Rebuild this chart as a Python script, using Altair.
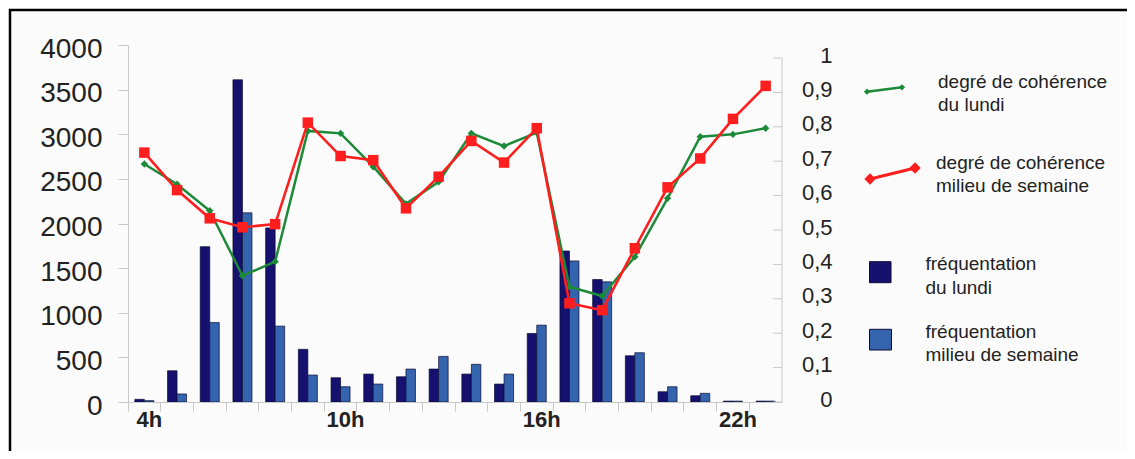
import altair as alt
import pandas as pd

# ---------------- data ----------------
hours = ["4h", "5h", "6h", "7h", "8h", "9h", "10h", "11h", "12h", "13h",
         "14h", "15h", "16h", "17h", "18h", "19h", "20h", "21h", "22h", "23h"]
shown_labels = ["4h", "10h", "16h", "22h"]

freq_lundi = [30, 350, 1740, 3610, 1950, 590, 272, 313, 283, 369,
              313, 201, 768, 1692, 1372, 518, 115, 70, 10, 10]
freq_semaine = [15, 90, 890, 2120, 850, 302, 171, 201, 369, 511,
                422, 313, 861, 1581, 1346, 552, 171, 97, 10, 10]

coh_lundi = [0.692, 0.633, 0.556, 0.367, 0.408, 0.788, 0.781, 0.684, 0.576, 0.640,
             0.781, 0.744, 0.783, 0.335, 0.308, 0.422, 0.592, 0.771, 0.778, 0.796]
coh_semaine = [0.725, 0.616, 0.534, 0.508, 0.517, 0.812, 0.715, 0.703, 0.563, 0.655,
               0.759, 0.696, 0.796, 0.287, 0.267, 0.447, 0.624, 0.708, 0.823, 0.919]

left_ticks = [0, 500, 1000, 1500, 2000, 2500, 3000, 3500, 4000]
right_ticks = [0, 0.1, 0.2, 0.3, 0.4, 0.5, 0.6, 0.7, 0.8, 0.9, 1]

series_bars = ["lundi", "semaine"]
legend_texts = [
    "degré de cohérence\ndu lundi",
    "degré de cohérence\nmilieu de semaine",
    "fréquentation\ndu lundi",
    "fréquentation\nmilieu de semaine",
]

# ---------------- styles ----------------
W, H = 654, 357
DARK = "#16106E"
LIGHT = "#3564AE"
GREEN = "#1C8A38"
RED = "#FF1E1E"
AXIS_GRAY = "#C8C8C8"
TEXT = "#222222"
FONT = "Liberation Sans"

df_bars = pd.DataFrame({
    "heure": hours * 2,
    "serie": ["lundi"] * len(hours) + ["semaine"] * len(hours),
    "valeur": freq_lundi + freq_semaine,
})
df_lines = pd.DataFrame({"heure": hours, "lundi": coh_lundi, "semaine": coh_semaine})
df_raxis = pd.DataFrame({"lo": [right_ticks[0]], "hi": [right_ticks[-1]]})
df_rticks = pd.DataFrame({"t": right_ticks})
dummy = pd.DataFrame({"d": [0]})

label_list = "[" + ",".join("'" + s + "'" for s in shown_labels) + "]"

x_axis = alt.Axis(
    title=None, bandPosition=0, labelAngle=0, labelOffset=5,
    labelExpr=f"indexof({label_list}, datum.label) >= 0 ? datum.label : ''",
    labelFontSize=22, labelFontWeight="bold", labelColor=TEXT, labelPadding=-2,
    labelFont=FONT,
    tickSize=9, tickColor=AXIS_GRAY, domainColor=AXIS_GRAY, grid=False, zindex=1,
)
x_enc = alt.X("heure:N", sort=hours,
              scale=alt.Scale(paddingInner=0, paddingOuter=0), axis=x_axis)

left_axis = alt.Axis(
    title=None, orient="left", values=left_ticks, format="d",
    labelFontSize=28, labelColor=TEXT, labelPadding=16, labelOffset=4,
    labelFont=FONT, labelOverlap=False,
    tickSize=10, tickColor=AXIS_GRAY, domainColor=AXIS_GRAY, grid=False, zindex=1,
)
right_scale = alt.Scale(domain=[0, 1.0378], nice=False, zero=True)
right_axis = alt.Axis(
    title=None, orient="right", values=right_ticks,
    labelExpr="datum.value == 0 ? '0' : datum.value == 1 ? '1' : replace(format(datum.value, '.1f'), '.', ',')",
    labelFontSize=22, labelColor=TEXT, labelAlign="right", labelPadding=50,
    labelOffset=-3, labelFont=FONT, labelOverlap=False,
    ticks=False, tickSize=0, domain=False, grid=False, zindex=1,
)

# frame
frame = alt.Chart(dummy).mark_rect(
    fill="#FBFBFB", stroke="#000000", strokeWidth=2.5
).encode(
    x=alt.value(-118), x2=alt.value(W + 400),
    y=alt.value(-35), y2=alt.value(H + 100),
)

bars = alt.Chart(df_bars).mark_bar(stroke="#0B0B35", strokeWidth=0.7).encode(
    x=x_enc,
    xOffset=alt.XOffset("serie:N", sort=series_bars,
                        scale=alt.Scale(paddingOuter=0.72, paddingInner=0)),
    y=alt.Y("valeur:Q", scale=alt.Scale(domain=[0, 4000], nice=False), axis=left_axis),
    color=alt.Color("serie:N", scale=alt.Scale(domain=series_bars, range=[DARK, LIGHT]),
                    legend=None),
)

green_line = alt.Chart(df_lines).mark_line(
    color=GREEN, strokeWidth=2.5,
    point=alt.OverlayMarkDef(shape="diamond", filled=True, size=55, color=GREEN),
).encode(
    x=alt.X("heure:N", sort=hours),
    y=alt.Y("lundi:Q", scale=right_scale, axis=right_axis),
)
red_line = alt.Chart(df_lines).mark_line(
    color=RED, strokeWidth=2.6,
    point=alt.OverlayMarkDef(shape="square", filled=True, size=110, color=RED),
).encode(
    x=alt.X("heure:N", sort=hours),
    y=alt.Y("semaine:Q", scale=right_scale, axis=right_axis),
)
raxis_line = alt.Chart(df_raxis).mark_rule(color=AXIS_GRAY, strokeWidth=1).encode(
    x=alt.value(W),
    y=alt.Y("lo:Q", scale=right_scale, axis=right_axis),
    y2="hi:Q",
)
raxis_ticks = alt.Chart(df_rticks).mark_rule(color=AXIS_GRAY, strokeWidth=1).encode(
    x=alt.value(W - 9), x2=alt.value(W),
    y=alt.Y("t:Q", scale=right_scale, axis=right_axis),
)
right_layer = alt.layer(raxis_line, raxis_ticks, green_line, red_line)

# ---------------- custom legend ----------------
def ltext(txt, x, y):
    return alt.Chart(dummy).mark_text(
        align="left", baseline="alphabetic", fontSize=19, font=FONT,
        color=TEXT, lineBreak="\n", lineHeight=23.5,
    ).encode(x=alt.value(x), y=alt.value(y), text=alt.value(txt))

def lrule(color, x1, y1, x2, y2, sw):
    return alt.Chart(dummy).mark_rule(color=color, strokeWidth=sw).encode(
        x=alt.value(x1), y=alt.value(y1), x2=alt.value(x2), y2=alt.value(y2))

def lpoint(color, x, y, size):
    return alt.Chart(dummy).mark_point(shape="diamond", filled=True, opacity=1,
                                       color=color, size=size).encode(
        x=alt.value(x), y=alt.value(y))

def lsquare(color, x1, y1, x2, y2):
    return alt.Chart(dummy).mark_rect(fill=color, stroke="#0B0B35", strokeWidth=1).encode(
        x=alt.value(x1), x2=alt.value(x2), y=alt.value(y1), y2=alt.value(y2))

legend = [
    lrule(GREEN, 739, 46.7, 774, 42.3, 2.5),
    lpoint(GREEN, 739, 46.7, 40),
    lpoint(GREEN, 774, 42.3, 40),
    ltext(legend_texts[0], 810, 42.5),
    lrule(RED, 742, 134, 787, 123, 3),
    lpoint(RED, 742, 134, 130),
    lpoint(RED, 787, 123, 130),
    ltext(legend_texts[1], 808, 123.5),
    lsquare(DARK, 741.5, 216.7, 763, 237.7),
    ltext(legend_texts[2], 797.5, 225),
    lsquare(LIGHT, 741.5, 284.3, 763.5, 305),
    ltext(legend_texts[3], 797.5, 292.5),
]

chart = alt.layer(frame, bars, right_layer, *legend).resolve_scale(
    y="independent"
).properties(
    width=W, height=H,
    padding={"left": 120, "top": 37, "right": 345, "bottom": 49},
    autosize=alt.AutoSizeParams(type="none"),
    background="white",
).configure_view(stroke=None).configure(font=FONT)

chart.save("out.html", embed_options={"renderer": "svg", "actions": False})
